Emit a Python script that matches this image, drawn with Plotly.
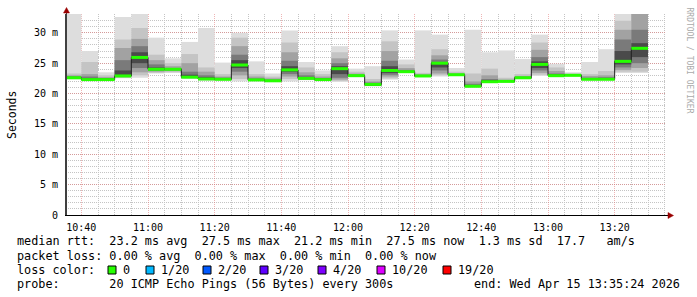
import plotly.graph_objects as go
import pandas as pd

# ---------------- data ----------------
bin_end = pd.date_range("2026-04-15 10:40:00", "2026-04-15 13:30:00", freq="5min")
x_start = "2026-04-15 10:35:24"
x_end = "2026-04-15 13:35:24"

# median rtt (ms) per 5-minute step
median = [22.6, 22.3, 22.3, 22.9, 25.95, 24.0, 24.0, 22.7, 22.4, 22.35,
          24.7, 22.25, 22.1, 23.9, 22.5, 22.3, 24.1, 22.95, 21.5, 23.8,
          23.6, 22.9, 25.0, 23.1, 21.2, 21.95, 22.0, 22.6, 24.8, 22.95,
          23.0, 22.35, 22.35, 25.3, 27.45]

# smoke layers (outer -> inner): upper edges
hi1 = [33.5, 27.0, 23.5, 32.6, 33.5, 29.2, 25.8, 28.5, 30.8, 25.1,
       30.0, 25.3, 23.3, 30.4, 25.2, 23.8, 27.8, 24.1, 24.5, 30.4,
       25.6, 30.4, 29.7, 24.2, 30.5, 26.8, 27.1, 25.7, 29.7, 24.9,
       23.5, 25.2, 27.3, 33.5, 38.0]
hi2 = [23.3, 25.2, 23.0, 28.9, 30.8, 26.4, 25.0, 26.5, 24.3, 23.2,
       29.2, 23.2, 22.8, 28.4, 24.3, 23.2, 26.8, 23.6, 22.4, 28.6,
       24.8, 23.4, 27.3, 23.6, 23.3, 24.1, 22.6, 23.2, 28.4, 24.3,
       23.3, 23.2, 23.7, 32.0, 36.0]
hi3 = [23.0, 23.2, 22.7, 27.5, 29.0, 25.5, 24.5, 25.0, 23.6, 22.8,
       27.8, 22.8, 22.5, 26.8, 23.5, 22.8, 25.8, 23.3, 22.0, 27.0,
       24.2, 23.2, 26.3, 23.35, 22.0, 23.0, 22.3, 22.9, 27.2, 23.7,
       23.15, 22.9, 23.0, 30.5, 34.0]
hi4 = [22.85, 22.8, 22.5, 25.5, 27.8, 24.8, 24.2, 23.6, 23.0, 22.6,
       26.4, 22.5, 22.3, 25.4, 23.0, 22.55, 25.0, 23.1, 21.8, 25.4,
       23.9, 23.05, 25.6, 23.2, 21.6, 22.4, 22.15, 22.75, 26.0, 23.3,
       23.08, 22.6, 22.7, 28.9, 30.5]
hi5 = [22.7, 22.5, 22.4, 23.8, 26.8, 24.3, 24.1, 23.1, 22.7, 22.45,
       25.5, 22.35, 22.2, 24.5, 22.7, 22.4, 24.5, 23.0, 21.65, 24.5,
       23.7, 23.0, 25.2, 23.15, 21.4, 22.1, 22.08, 22.68, 25.3, 23.1,
       23.04, 22.45, 22.5, 27.0, 28.3]
# smoke layers (outer -> inner): lower edges
lo1 = [22.35, 22.05, 22.1, 22.5, 22.6, 23.3, 23.4, 22.45, 22.15, 22.15,
       22.0, 22.0, 21.9, 22.0, 22.2, 22.1, 21.9, 22.7, 21.2, 22.3,
       23.4, 22.7, 22.8, 22.9, 21.0, 21.8, 21.85, 22.4, 22.9, 22.7,
       22.85, 22.2, 22.2, 23.4, 23.4]
lo2 = [22.4, 22.1, 22.15, 22.6, 23.0, 23.4, 23.5, 22.5, 22.2, 22.2,
       22.4, 22.05, 21.95, 22.4, 22.25, 22.15, 22.1, 22.75, 21.25, 22.5,
       23.45, 22.75, 23.0, 22.95, 21.05, 21.83, 21.88, 22.45, 23.1, 22.75,
       22.88, 22.23, 22.23, 23.6, 23.6]
lo3 = [22.45, 22.15, 22.2, 22.7, 23.5, 23.6, 23.7, 22.55, 22.25, 22.25,
       23.0, 22.1, 22.0, 22.8, 22.3, 22.2, 22.3, 22.8, 21.3, 22.8,
       23.5, 22.8, 23.3, 23.0, 21.1, 21.86, 21.91, 22.5, 23.4, 22.8,
       22.91, 22.26, 22.26, 23.9, 24.2]
lo4 = [22.5, 22.2, 22.25, 22.8, 24.2, 23.75, 23.8, 22.6, 22.3, 22.3,
       23.6, 22.15, 22.03, 23.2, 22.35, 22.23, 22.6, 22.85, 21.35, 23.1,
       23.53, 22.83, 23.8, 23.03, 21.13, 21.89, 21.94, 22.53, 23.8, 22.85,
       22.94, 22.29, 22.29, 24.3, 25.0]
lo5 = [22.55, 22.25, 22.28, 22.85, 25.0, 23.9, 23.9, 22.65, 22.35, 22.32,
       24.2, 22.2, 22.06, 23.6, 22.4, 22.26, 23.2, 22.9, 21.4, 23.4,
       23.56, 22.86, 24.3, 23.06, 21.16, 21.92, 21.97, 22.56, 24.2, 22.9,
       22.97, 22.32, 22.32, 24.8, 26.0]

smoke_colors = ["#dddddd", "#c4c4c4", "#a2a2a2", "#7a7a7a", "#4a4a4a"]

ytick_vals = [0, 5, 10, 15, 20, 25, 30]
ytick_text = ["0", "5 m", "10 m", "15 m", "20 m", "25 m", "30 m"]

loss_labels = ["0", "1/20", "2/20", "3/20", "4/20", "10/20", "19/20"]
loss_colors = ["#26ff00", "#00b8ff", "#0059ff", "#5e00ff", "#7e00ff", "#dd00ff", "#ff0000"]

legend_rows = [
    "median rtt:  23.2 ms avg  27.5 ms max  21.2 ms min  27.5 ms now  1.3 ms sd  17.7   am/s",
    "packet loss: 0.00 % avg  0.00 % max  0.00 % min  0.00 % now",
    "loss color:",
    "probe:       20 ICMP Echo Pings (56 Bytes) every 300s",
]
end_text = "end: Wed Apr 15 13:35:24 2026"

# ---------------- geometry helpers (pixel -> paper) ----------------
L, R, T, B = 66, 31, 14, 82
W, H = 697, 297
PW, PH = W - L - R, H - T - B
def px(x):
    return (x - L) / PW
def py(y):
    return (H - B - y) / PH

step = pd.Timedelta(minutes=5)
bin_start = bin_end - step
centers = bin_end - step / 2

fig = go.Figure()

# smoke
for lo, hi, col in zip([lo1, lo2, lo3, lo4, lo5], [hi1, hi2, hi3, hi4, hi5], smoke_colors):
    fig.add_trace(go.Bar(
        x=centers, base=lo, y=[h - l for h, l in zip(hi, lo)],
        width=step.total_seconds() * 1000, marker=dict(color=col, line=dict(width=0)),
        hoverinfo="skip"))

# dark median step line
fig.add_trace(go.Scatter(
    x=list(bin_start) + [bin_end[-1]], y=median + [median[-1]],
    mode="lines", line=dict(color="#202020", width=1, shape="hv"), hoverinfo="skip"))

# green median band (0 % loss)
gx, gy = [], []
for s, e, m in zip(bin_start, bin_end, median):
    gx += [s, e, None]
    gy += [m, m, None]
fig.add_trace(go.Scatter(x=gx, y=gy, mode="lines",
                         line=dict(color=loss_colors[0], width=3), hoverinfo="skip"))

mono = "DejaVu Sans Mono"
major_grid = "rgba(225,120,120,0.55)"
minor_grid = "#c4c4c4"

fig.update_layout(
    width=W, height=H, margin=dict(l=L, r=R, t=T, b=B, pad=0),
    paper_bgcolor="white", plot_bgcolor="white",
    showlegend=False, barmode="overlay", hovermode=False,
    font=dict(family=mono, size=10, color="black"),
    xaxis=dict(type="date", range=[x_start, x_end],
               tick0="2026-04-15 10:40:00", dtick=20 * 60 * 1000, tickformat="%H:%M",
               showgrid=True, gridcolor=major_grid, griddash="1px,1px", gridwidth=1,
               minor=dict(tick0="2026-04-15 10:40:00", dtick=5 * 60 * 1000, showgrid=True,
                          gridcolor=minor_grid, griddash="1px,1px", gridwidth=1),
               showline=True, linecolor="black", linewidth=1, zeroline=False,
               ticks="", ticklabelstandoff=3, tickfont=dict(family=mono, size=10)),
    yaxis=dict(range=[0, 33.1], tickmode="array", tickvals=ytick_vals, ticktext=ytick_text,
               showgrid=True, gridcolor=major_grid, griddash="1px,1px", gridwidth=1,
               minor=dict(tickmode="linear", tick0=0, dtick=1, showgrid=True,
                          gridcolor=minor_grid, griddash="1px,1px", gridwidth=1),
               showline=True, linecolor="#404040", linewidth=1, zeroline=False,
               ticks="", ticklabelstandoff=5, tickfont=dict(family=mono, size=10)),
)

annotations = []
# y axis title
annotations.append(dict(text="Seconds", x=px(12), y=py(115), xref="paper", yref="paper",
                        textangle=-90, showarrow=False, font=dict(family=mono, size=11.5),
                        xanchor="center", yanchor="middle"))
# watermark
annotations.append(dict(text="RRDTOOL / TOBI OETIKER", x=px(688.5), y=py(60),
                        xref="paper", yref="paper", textangle=90, showarrow=False,
                        font=dict(family=mono, size=8, color="#aaaaaa"),
                        xanchor="center", yanchor="middle"))
# legend rows
row_y = [241, 255.5, 269.5, 284]
for txt, yy in zip(legend_rows, row_y):
    annotations.append(dict(text=txt.replace(" ", "\u00a0"), x=px(16), y=py(yy),
                            xref="paper", yref="paper", showarrow=False, borderpad=0,
                            xanchor="left", yanchor="middle",
                            font=dict(family=mono, size=11.8, color="black")))
annotations.append(dict(text=end_text.replace(" ", "\u00a0"), x=px(681), y=py(row_y[3]),
                        xref="paper", yref="paper", showarrow=False, borderpad=0,
                        xanchor="right", yanchor="middle",
                        font=dict(family=mono, size=11.8, color="black")))

shapes = []
sq_left = [108, 146, 203, 260, 318, 377, 443]
for sx, lab, col in zip(sq_left, loss_labels, loss_colors):
    shapes.append(dict(type="rect", xref="paper", yref="paper",
                       x0=px(sx), x1=px(sx + 8), y0=py(266), y1=py(274),
                       fillcolor=col, line=dict(color="black", width=1)))
    annotations.append(dict(text=lab, x=px(sx + 13.5), y=py(row_y[2]),
                            xref="paper", yref="paper", showarrow=False, borderpad=0,
                            xanchor="left", yanchor="middle",
                            font=dict(family=mono, size=11.8, color="black")))

# axis extensions and arrows
shapes.append(dict(type="line", xref="paper", yref="paper", x0=px(66.5), x1=px(66.5),
                   y0=py(215), y1=py(10), line=dict(color="#404040", width=1)))
shapes.append(dict(type="line", xref="paper", yref="paper", x0=px(666), x1=px(670),
                   y0=py(215.5), y1=py(215.5), line=dict(color="black", width=1)))
shapes.append(dict(type="path", xref="paper", yref="paper",
                   path=f"M {px(66.5)} {py(7.5)} L {px(63.5)} {py(13)} L {px(69.5)} {py(13)} Z",
                   fillcolor="#990000", line=dict(color="#990000", width=0.5)))
shapes.append(dict(type="path", xref="paper", yref="paper",
                   path=f"M {px(673.5)} {py(215.5)} L {px(668)} {py(212.5)} L {px(668)} {py(218.5)} Z",
                   fillcolor="#990000", line=dict(color="#990000", width=0.5)))

fig.update_layout(annotations=annotations, shapes=shapes)

fig.write_html("out.html")
